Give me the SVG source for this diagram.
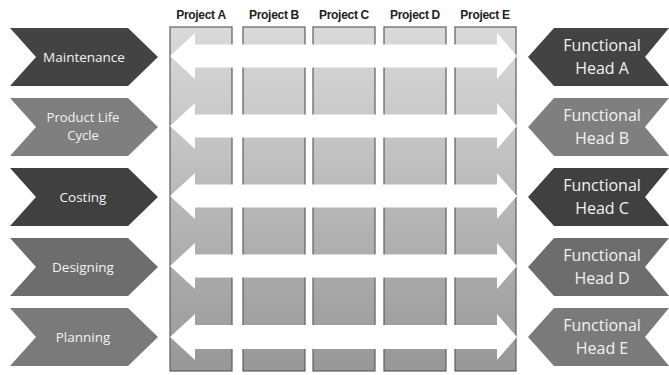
<svg xmlns="http://www.w3.org/2000/svg" width="669" height="375" viewBox="0 0 669 375">
<defs>
<linearGradient id="colg" x1="0" y1="0" x2="0" y2="1">
<stop offset="0" stop-color="#dadada"/>
<stop offset="1" stop-color="#979797"/>
</linearGradient>
<style>
.col{fill:url(#colg);stroke:#5e5e5e;stroke-width:1.2}
.proj{font-family:"Liberation Sans",Arial,sans-serif;font-weight:bold;font-size:12px;fill:#222;text-anchor:middle;letter-spacing:-0.3px}
.lt{font-family:"Open Sans","DejaVu Sans",sans-serif;font-size:13.5px;fill:#f2f2f2;text-anchor:middle}
.rt{font-family:"Open Sans","DejaVu Sans",sans-serif;font-size:16px;fill:#f2f2f2;text-anchor:middle}
.arr{fill:#ffffff}
.d1{fill:#434343}.d2{fill:#7f7f7f}.d3{fill:#404040}.d4{fill:#6d6d6d}.d5{fill:#7a7a7a}
</style>
</defs>
<rect width="669" height="375" fill="#ffffff"/>

<g id="columns">
<g id="projectA"><rect class="col" x="170" y="27" width="62" height="344"/><text class="proj" x="201" y="19">Project A</text></g>
<g id="projectB"><rect class="col" x="243" y="27" width="62" height="344"/><text class="proj" x="274" y="19">Project B</text></g>
<g id="projectC"><rect class="col" x="313" y="27" width="62" height="344"/><text class="proj" x="344" y="19">Project C</text></g>
<g id="projectD"><rect class="col" x="384" y="27" width="62" height="344"/><text class="proj" x="415" y="19">Project D</text></g>
<g id="projectE"><rect class="col" x="455" y="27" width="61" height="344"/><text class="proj" x="485" y="19">Project E</text></g>
</g>

<g id="connectors">
<polygon class="arr" points="170,56 195,33 195,44.5 497,44.5 497,33 517,56 497,79 497,67.5 195,67.5 195,79"/>
<polygon class="arr" points="170,126 195,103 195,114.5 497,114.5 497,103 517,126 497,149 497,137.5 195,137.5 195,149"/>
<polygon class="arr" points="170,196 195,173 195,184.5 497,184.5 497,173 517,196 497,219 497,207.5 195,207.5 195,219"/>
<polygon class="arr" points="170,266 195,243 195,254.5 497,254.5 497,243 517,266 497,289 497,277.5 195,277.5 195,289"/>
<polygon class="arr" points="170,337 195,314 195,325 497,325 497,314 517,337 497,360 497,349 195,349 195,360"/>
</g>

<g id="maintenance"><polygon class="d1" points="10,28 128,28 158,57 128,86 10,86 36,57"/><text class="lt" x="84" y="62">Maintenance</text></g>
<g id="productLifeCycle"><polygon class="d2" points="10,98 128,98 158,127 128,156 10,156 36,127"/><text class="lt" x="83" y="121.5" style="font-size:13px">Product Life</text><text class="lt" x="83" y="139.5" style="font-size:13px">Cycle</text></g>
<g id="costing"><polygon class="d3" points="10,168 128,168 158,197 128,226 10,226 36,197"/><text class="lt" x="83" y="202">Costing</text></g>
<g id="designing"><polygon class="d4" points="10,238 128,238 158,267 128,296 10,296 36,267"/><text class="lt" x="83" y="272">Designing</text></g>
<g id="planning"><polygon class="d5" points="10,308 128,308 158,337 128,366 10,366 36,337"/><text class="lt" x="83" y="342">Planning</text></g>

<g id="headA"><polygon class="d1" points="528,57 554,28 669,28 645,57 669,86 554,86"/><text class="rt" x="602" y="51">Functional</text><text class="rt" x="602" y="74">Head A</text></g>
<g id="headB"><polygon class="d2" points="528,127 554,98 669,98 645,127 669,156 554,156"/><text class="rt" x="602" y="121">Functional</text><text class="rt" x="602" y="144">Head B</text></g>
<g id="headC"><polygon class="d3" points="528,197 554,168 669,168 645,197 669,226 554,226"/><text class="rt" x="602" y="191">Functional</text><text class="rt" x="602" y="214">Head C</text></g>
<g id="headD"><polygon class="d4" points="528,267 554,238 669,238 645,267 669,296 554,296"/><text class="rt" x="602" y="261">Functional</text><text class="rt" x="602" y="284">Head D</text></g>
<g id="headE"><polygon class="d5" points="528,337 554,308 669,308 645,337 669,366 554,366"/><text class="rt" x="602" y="331">Functional</text><text class="rt" x="602" y="354">Head E</text></g>
</svg>
